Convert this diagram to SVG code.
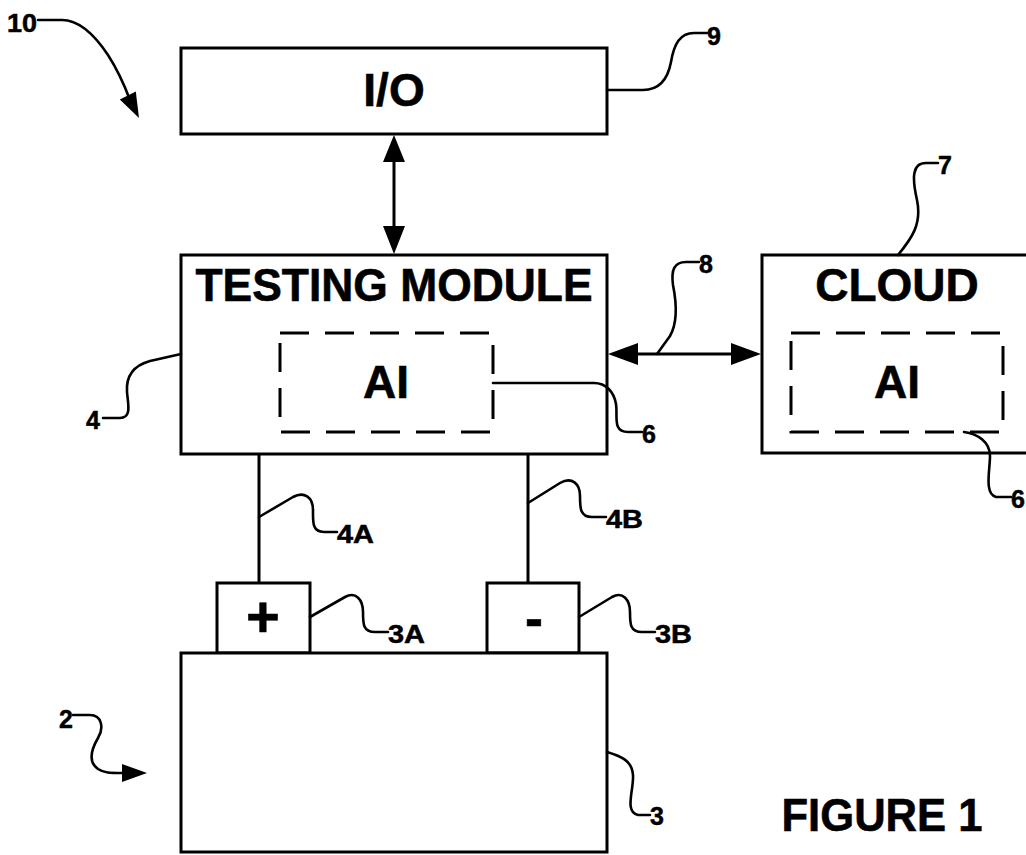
<svg xmlns="http://www.w3.org/2000/svg" width="1026" height="855" viewBox="0 0 1026 855">
  <style>
    .box { fill: #fff; stroke: #000; stroke-width: 3; }
    .dash { fill: none; stroke: #000; stroke-width: 3; stroke-dasharray: 29 16; }
    .wire { fill: none; stroke: #000; stroke-width: 3; }
    .lead { fill: none; stroke: #000; stroke-width: 2.6; stroke-linecap: round; stroke-linejoin: round; }
    .head { fill: #000; stroke: none; }
    .big { font-family: "Liberation Sans", Arial, sans-serif; font-weight: bold; font-size: 46px; fill: #000; text-anchor: middle; stroke: #000; stroke-width: 0.6; }
    .ref { font-family: "Liberation Sans", Arial, sans-serif; font-weight: bold; font-size: 25px; fill: #000; stroke: #000; stroke-width: 0.5; }
  </style>
  <rect width="1026" height="855" fill="#fff"/>

  <!-- system reference 10 -->
  <g id="ref10">
    <text class="ref" x="7" y="32" textLength="30" lengthAdjust="spacingAndGlyphs">10</text>
    <path class="lead" d="M38,20 L62,20 C82,20 98,40 108,55 C117,69 124,84 130,100"/>
    <polygon class="head" points="139,118 119.8,99.6 135.8,91.6"/>
  </g>

  <!-- I/O -->
  <g id="io">
    <rect class="box" x="181" y="48" width="426" height="86"/>
    <text class="big" x="394" y="106">I/O</text>
    <path class="lead" d="M607,90 L643,90 C660,90 668,78 671,62 C674,44 680,33 694,33 L707,33"/>
    <text class="ref" x="707" y="45">9</text>
  </g>

  <!-- testing module -->
  <g id="testing-module">
    <rect class="box" x="181" y="255" width="426" height="199"/>
    <text class="big" x="394" y="301" textLength="397" lengthAdjust="spacingAndGlyphs">TESTING MODULE</text>
    <path class="lead" d="M181,354 L150,361 C132,366 126,378 127,392 C128,404 132,418 120,418 L103,418"/>
    <text class="ref" x="86" y="429">4</text>
  </g>

  <!-- AI inside testing module -->
  <g id="ai-local">
    <rect class="dash" x="280" y="333" width="213" height="99"/>
    <text class="big" x="386" y="398">AI</text>
    <path class="lead" d="M493,383 L594,383 C606,383 614,392 616,404 C618,416 612,432 628,432 L642,432"/>
    <text class="ref" x="642" y="443">6</text>
  </g>

  <!-- cloud -->
  <g id="cloud">
    <rect class="box" x="762" y="255" width="280" height="198"/>
    <text class="big" x="897" y="301">CLOUD</text>
    <path class="lead" d="M898,255 C912,238 922,224 917,200 C912,178 912,163 926,163 L938,163"/>
    <text class="ref" x="938" y="174">7</text>
  </g>

  <!-- AI inside cloud -->
  <g id="ai-cloud">
    <rect class="dash" x="791" y="333" width="212" height="99"/>
    <text class="big" x="897" y="398">AI</text>
    <path class="lead" d="M964,432 C978,434 990,442 990,456 C990,470 984,494 996,497 L1011,497"/>
    <text class="ref" x="1011" y="508">6</text>
  </g>

  <!-- connectors -->
  <g id="connectors">
    <line class="wire" x1="394" y1="150" x2="394" y2="240"/>
    <polygon class="head" points="394,135 383,162 405,162"/>
    <polygon class="head" points="394,254 383,226 405,226"/>

    <line class="wire" x1="625" y1="354" x2="745" y2="354"/>
    <polygon class="head" points="608,354 638,343 638,365"/>
    <polygon class="head" points="761,354 731,343 731,365"/>
    <path class="lead" d="M657,354 L670,336 C678,322 676,300 673,285 C671,270 674,262 686,262 L699,262"/>
    <text class="ref" x="699" y="273">8</text>

    <line class="wire" x1="259" y1="454" x2="259" y2="583"/>
    <line class="wire" x1="528" y1="454" x2="528" y2="583"/>
    <path class="lead" d="M259,517 L293,497 C304,491 313,497 313,510 C313,522 312,532 324,532 L337,532"/>
    <text class="ref" x="337" y="543" textLength="37" lengthAdjust="spacingAndGlyphs">4A</text>
    <path class="lead" d="M528,503 L560,483 C572,476 580,484 580,496 C580,508 580,517 592,517 L606,517"/>
    <text class="ref" x="606" y="528" textLength="37" lengthAdjust="spacingAndGlyphs">4B</text>
  </g>

  <!-- positive terminal -->
  <g id="terminal-pos">
    <rect class="box" x="217" y="583" width="93" height="70"/>
    <text class="big" x="263" y="637" style="font-size:58px">+</text>
    <path class="lead" d="M310,617 L345,597 C356,591 363,600 363,612 C363,624 363,632 375,632 L388,632"/>
    <text class="ref" x="388" y="643" textLength="37" lengthAdjust="spacingAndGlyphs">3A</text>
  </g>

  <!-- negative terminal -->
  <g id="terminal-neg">
    <rect class="box" x="487" y="583" width="92" height="70"/>
    <text class="big" x="534" y="637" style="font-size:54px">-</text>
    <path class="lead" d="M579,617 L612,597 C623,591 630,600 630,612 C630,624 630,632 642,632 L655,632"/>
    <text class="ref" x="655" y="643" textLength="37" lengthAdjust="spacingAndGlyphs">3B</text>
  </g>

  <!-- battery -->
  <g id="battery">
    <rect class="box" x="181" y="653" width="426" height="199"/>
    <path class="lead" d="M607,752 C620,756 632,760 633,775 C634,790 624,812 638,815 L650,815"/>
    <text class="ref" x="650" y="825">3</text>
  </g>

  <!-- battery reference 2 -->
  <g id="ref2">
    <text class="ref" x="59" y="728">2</text>
    <path class="lead" d="M73,715 L90,715 C102,715 104,728 98,738 C91,750 88,762 98,769 C104,773 110,773 122,773"/>
    <polygon class="head" points="147,773 122,764 122,782"/>
  </g>

  <!-- caption -->
  <g id="caption">
    <text class="big" x="882" y="831" textLength="201" lengthAdjust="spacingAndGlyphs">FIGURE 1</text>
  </g>
</svg>
